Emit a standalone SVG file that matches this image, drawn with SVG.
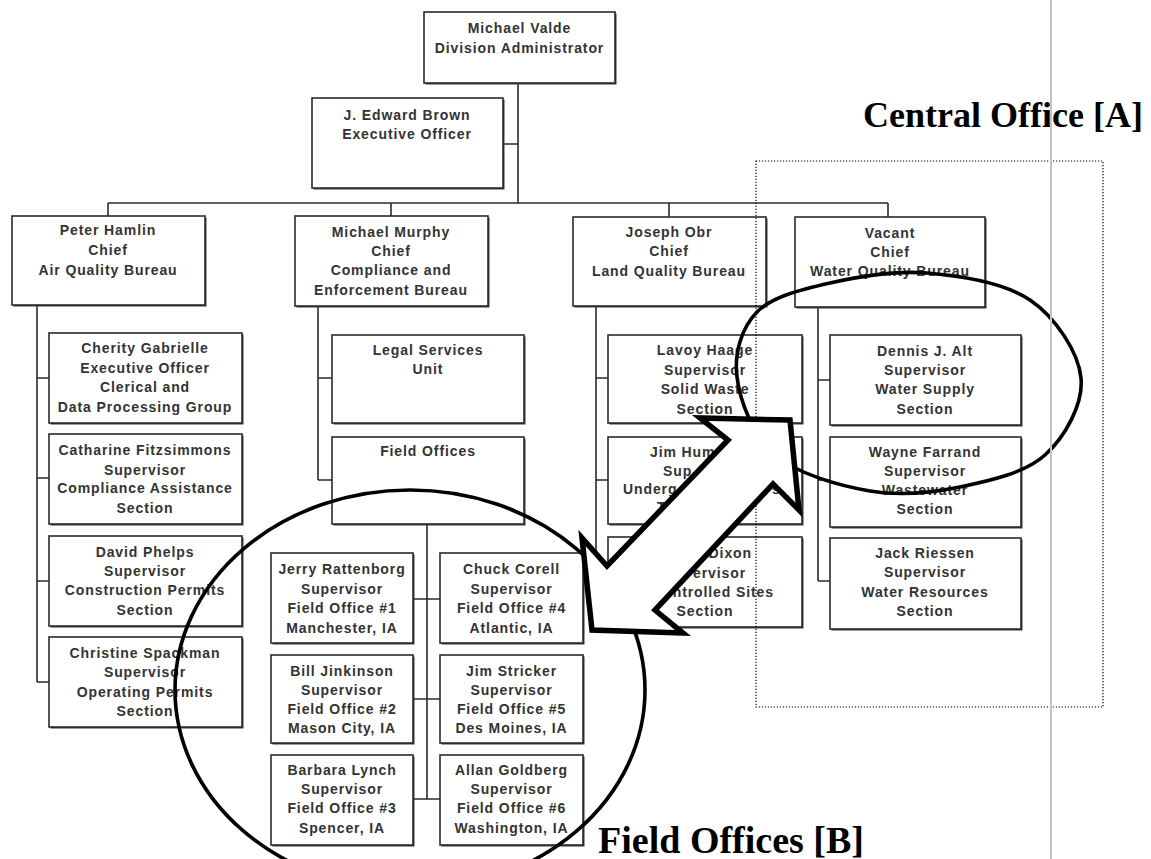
<svg xmlns="http://www.w3.org/2000/svg" width="1151" height="859" viewBox="0 0 1151 859">
<style>
.bx{fill:#fff;stroke:#2b2b2b;stroke-width:1.6}
.sh{fill:#3a3a3a}
.t{font-family:"Liberation Sans",Arial,sans-serif;font-weight:bold;font-size:14px;fill:#333;text-anchor:middle;letter-spacing:0.9px}
.ts{text-anchor:start}
.te{text-anchor:end}
.c{stroke:#2b2b2b;stroke-width:1.6;fill:none}
.big{font-family:"Liberation Serif","Times New Roman",serif;font-weight:bold;fill:#000}
.ring{fill:none;stroke:#000;stroke-width:3.6}
</style>
<rect width="1151" height="859" fill="#fff"/>
<g id="connectors">
<path class="c" d="M518,83V203M503,144H518M108,203H888M108,203V216M391,203V216M669,203V217M888,203V217"/>
<path class="c" d="M37,305V682M37,378H49M37,478H49M37,581H49M37,682H49"/>
<path class="c" d="M318,306V480M318,378H332M318,480H332"/>
<path class="c" d="M427,524V799M413,599H440M413,699H440M413,799H440"/>
<path class="c" d="M596,306V581M596,378H608M596,480H608M596,581H608"/>
<path class="c" d="M818,307V581M818,380H830M818,480H830M818,581H830"/>
</g>
<g id="valde"><rect class="sh" x="425.5" y="13.5" width="191" height="71"/><rect class="bx" x="424" y="12" width="191" height="71"/><text class="t" x="519.5" y="33">Michael Valde</text><text class="t" x="519.5" y="53">Division Administrator</text></g>
<g id="brown"><rect class="sh" x="313.5" y="99.5" width="191" height="90"/><rect class="bx" x="312" y="98" width="191" height="90"/><text class="t" x="407" y="120">J. Edward Brown</text><text class="t" x="407" y="139">Executive Officer</text></g>
<g id="hamlin"><rect class="sh" x="13.5" y="217.5" width="193" height="89"/><rect class="bx" x="12" y="216" width="193" height="89"/><text class="t" x="108" y="235">Peter Hamlin</text><text class="t" x="108" y="255">Chief</text><text class="t" x="108" y="275">Air Quality Bureau</text></g>
<g id="murphy"><rect class="sh" x="296.5" y="217.5" width="193" height="90"/><rect class="bx" x="295" y="216" width="193" height="90"/><text class="t" x="391" y="237">Michael Murphy</text><text class="t" x="391" y="256">Chief</text><text class="t" x="391" y="275">Compliance and</text><text class="t" x="391" y="295">Enforcement Bureau</text></g>
<g id="obr"><rect class="sh" x="574.5" y="218.5" width="193" height="89"/><rect class="bx" x="573" y="217" width="193" height="89"/><text class="t" x="669" y="237">Joseph Obr</text><text class="t" x="669" y="256">Chief</text><text class="t" x="669" y="276">Land Quality Bureau</text></g>
<g id="vacant"><rect class="sh" x="796.5" y="218.5" width="190" height="90"/><rect class="bx" x="795" y="217" width="190" height="90"/><text class="t" x="890" y="238">Vacant</text><text class="t" x="890" y="257">Chief</text><text class="t" x="890" y="276">Water Quality Bureau</text></g>
<g id="cherity"><rect class="sh" x="50.5" y="334.5" width="193" height="90"/><rect class="bx" x="49" y="333" width="193" height="90"/><text class="t" x="145" y="353">Cherity Gabrielle</text><text class="t" x="145" y="373">Executive Officer</text><text class="t" x="145" y="392">Clerical and</text><text class="t" x="145" y="412">Data Processing Group</text></g>
<g id="fitzsimmons"><rect class="sh" x="50.5" y="435.5" width="193" height="90"/><rect class="bx" x="49" y="434" width="193" height="90"/><text class="t" x="145" y="455">Catharine Fitzsimmons</text><text class="t" x="145" y="475">Supervisor</text><text class="t" x="145" y="493">Compliance Assistance</text><text class="t" x="145" y="513">Section</text></g>
<g id="phelps"><rect class="sh" x="50.5" y="537.5" width="193" height="90"/><rect class="bx" x="49" y="536" width="193" height="90"/><text class="t" x="145" y="557">David Phelps</text><text class="t" x="145" y="576">Supervisor</text><text class="t" x="145" y="595">Construction Permits</text><text class="t" x="145" y="615">Section</text></g>
<g id="spackman"><rect class="sh" x="50.5" y="638.5" width="193" height="90"/><rect class="bx" x="49" y="637" width="193" height="90"/><text class="t" x="145" y="658">Christine Spackman</text><text class="t" x="145" y="677">Supervisor</text><text class="t" x="145" y="697">Operating Permits</text><text class="t" x="145" y="716">Section</text></g>
<g id="legal"><rect class="sh" x="333.5" y="336.5" width="192" height="88"/><rect class="bx" x="332" y="335" width="192" height="88"/><text class="t" x="428" y="355">Legal Services</text><text class="t" x="428" y="374">Unit</text></g>
<g id="fieldoffices"><rect class="sh" x="333.5" y="438.5" width="192" height="87"/><rect class="bx" x="332" y="437" width="192" height="87"/><text class="t" x="428" y="456">Field Offices</text></g>
<g id="haage"><rect class="sh" x="609.5" y="336.5" width="194" height="88"/><rect class="bx" x="608" y="335" width="194" height="88"/><text class="t" x="705" y="355">Lavoy Haage</text><text class="t" x="705" y="375">Supervisor</text><text class="t" x="705" y="394">Solid Waste</text><text class="t" x="705" y="414">Section</text></g>
<g id="hum"><rect class="sh" x="609.5" y="438.5" width="194" height="87"/><rect class="bx" x="608" y="437" width="194" height="87"/><text class="t ts" x="650" y="457">Jim Hum</text><text class="t ts" x="663" y="476">Sup</text><text class="t ts" x="623" y="494">Underg</text><text class="t ts" x="772" y="494">s</text><text class="t ts" x="657" y="512">T</text></g>
<g id="dixon"><rect class="sh" x="609.5" y="538.5" width="194" height="90"/><rect class="bx" x="608" y="537" width="194" height="90"/><text class="t te" x="752" y="558">Dixon</text><text class="t te" x="746" y="578">ervisor</text><text class="t te" x="774" y="597">ntrolled Sites</text><text class="t" x="705" y="616">Section</text></g>
<g id="alt"><rect class="sh" x="831.5" y="336.5" width="191" height="90"/><rect class="bx" x="830" y="335" width="191" height="90"/><text class="t" x="925" y="356">Dennis J. Alt</text><text class="t" x="925" y="375">Supervisor</text><text class="t" x="925" y="394">Water Supply</text><text class="t" x="925" y="414">Section</text></g>
<g id="farrand"><rect class="sh" x="831.5" y="438.5" width="191" height="90"/><rect class="bx" x="830" y="437" width="191" height="90"/><text class="t" x="925" y="457">Wayne Farrand</text><text class="t" x="925" y="476">Supervisor</text><text class="t" x="925" y="495">Wastewater</text><text class="t" x="925" y="514">Section</text></g>
<g id="riessen"><rect class="sh" x="831.5" y="539.5" width="191" height="91"/><rect class="bx" x="830" y="538" width="191" height="91"/><text class="t" x="925" y="558">Jack Riessen</text><text class="t" x="925" y="577">Supervisor</text><text class="t" x="925" y="597">Water Resources</text><text class="t" x="925" y="616">Section</text></g>
<g id="fo1"><rect class="sh" x="272.5" y="554.5" width="142" height="90"/><rect class="bx" x="271" y="553" width="142" height="90"/><text class="t" x="342" y="574">Jerry Rattenborg</text><text class="t" x="342" y="594">Supervisor</text><text class="t" x="342" y="613">Field Office #1</text><text class="t" x="342" y="633">Manchester, IA</text></g>
<g id="fo2"><rect class="sh" x="272.5" y="656.5" width="142" height="88"/><rect class="bx" x="271" y="655" width="142" height="88"/><text class="t" x="342" y="676">Bill Jinkinson</text><text class="t" x="342" y="695">Supervisor</text><text class="t" x="342" y="714">Field Office #2</text><text class="t" x="342" y="733">Mason City, IA</text></g>
<g id="fo3"><rect class="sh" x="272.5" y="756.5" width="142" height="90"/><rect class="bx" x="271" y="755" width="142" height="90"/><text class="t" x="342" y="775">Barbara Lynch</text><text class="t" x="342" y="794">Supervisor</text><text class="t" x="342" y="813">Field Office #3</text><text class="t" x="342" y="833">Spencer, IA</text></g>
<g id="fo4"><rect class="sh" x="441.5" y="554.5" width="143" height="90"/><rect class="bx" x="440" y="553" width="143" height="90"/><text class="t" x="511.5" y="574">Chuck Corell</text><text class="t" x="511.5" y="594">Supervisor</text><text class="t" x="511.5" y="613">Field Office #4</text><text class="t" x="511.5" y="633">Atlantic, IA</text></g>
<g id="fo5"><rect class="sh" x="441.5" y="656.5" width="143" height="88"/><rect class="bx" x="440" y="655" width="143" height="88"/><text class="t" x="511.5" y="676">Jim Stricker</text><text class="t" x="511.5" y="695">Supervisor</text><text class="t" x="511.5" y="714">Field Office #5</text><text class="t" x="511.5" y="733">Des Moines, IA</text></g>
<g id="fo6"><rect class="sh" x="441.5" y="756.5" width="143" height="90"/><rect class="bx" x="440" y="755" width="143" height="90"/><text class="t" x="511.5" y="775">Allan Goldberg</text><text class="t" x="511.5" y="794">Supervisor</text><text class="t" x="511.5" y="813">Field Office #6</text><text class="t" x="511.5" y="833">Washington, IA</text></g>
<g id="central-region">
<rect x="756" y="161" width="347" height="546" fill="none" stroke="#000" stroke-width="1.2" stroke-dasharray="1.2,1.8"/>
<path class="ring" d="M737,377 C734,353.2 741.5,327.7 757,312 C772.5,296.3 801.7,289.5 830,283 C858.3,276.5 893.7,270.2 927,273 C960.3,275.8 1004.3,282.5 1030,300 C1055.7,317.5 1078.5,352.2 1081,378 C1083.5,403.8 1065.2,436.8 1045,455 C1024.8,473.2 989.2,481 960,487 C930.8,493 900.8,496.3 870,491 C839.2,485.7 797.2,474 775,455 C752.8,436 740,400.8 737,377 Z"/>
</g>
<g id="field-region">
<ellipse class="ring" cx="410" cy="690" rx="235" ry="200" stroke-width="4"/>
</g>
<g id="double-arrow">
<polygon points="790,420 799,510 773,484 655,610 683,633 592,630 582,538 607,566 728,440 700,418" fill="#fff" stroke="#000" stroke-width="5.5" stroke-linejoin="miter" stroke-miterlimit="10"/>
</g>
<g id="labels">
<text class="big" x="863" y="127" font-size="36">Central Office [A]</text>
<text class="big" x="864" y="853" font-size="38" text-anchor="end">Field Offices [B]</text>
</g>
<line x1="1051" y1="0" x2="1051" y2="859" stroke="#c4c4c4" stroke-width="2"/>
</svg>
